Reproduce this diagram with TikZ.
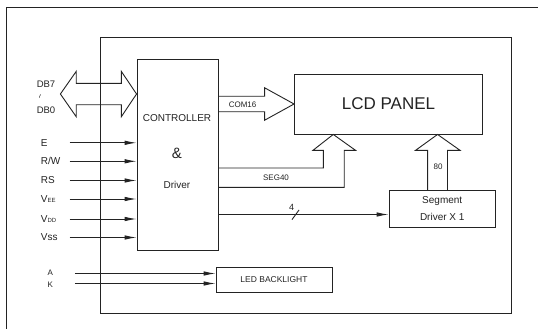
\documentclass[tikz,border=0pt]{standalone}
\usepackage{fontspec}
\setmainfont{Liberation Sans}
\usetikzlibrary{arrows.meta,calc}
\definecolor{ink}{RGB}{35,35,35}
\begin{document}
\begin{tikzpicture}[x=1pt,y=-1pt, line width=0.9pt, draw=ink, text=ink,
  box/.style={draw, inner sep=0pt},
  lbl/.style={inner sep=0pt, font=\fontsize{10}{12}\selectfont},
  sml/.style={inner sep=0pt, font=\fontsize{8}{10}\selectfont},
  sig/.style={-{Latex[length=12pt,width=4.5pt]}},
  bus/.style={line join=miter}]
\useasboundingbox (0,0) rectangle (538,329);
\fill[white] (0,0) rectangle (538,329);
% outer frame
\draw (6,340) -- (6,7) -- (545,7);
% blocks
\node[box, minimum width=411pt, minimum height=276pt] (frame) at (305.5,175) {};
\node[box, minimum width=81pt, minimum height=191.5pt] (ctrl) at (177.5,154.75) {};
\node[box, minimum width=188pt, minimum height=60pt, font=\fontsize{17}{20}\selectfont] (lcd) at (388.5,104) {LCD PANEL};
\node[box, minimum width=106.5pt, minimum height=36.5pt, align=center, font=\fontsize{10}{17}\selectfont] (seg) at (442.25,208.75) {Segment\\Driver X 1};
\node[box, minimum width=116pt, minimum height=25pt, font=\fontsize{8.5}{10}\selectfont] (led) at (274,279.5) {LED BACKLIGHT\hspace{6pt}};
% controller texts
\node[lbl] (t1) at (177,118.4) {CONTROLLER};
\node[inner sep=0pt, font=\fontsize{15}{17}\selectfont] (t2) at (177,153.4) {\&};
\node[lbl] (t3) at (177,185.3) {Driver};
% data bus
\coordinate (dbL) at (60.4,94);
\coordinate (dbR) at (ctrl.west |- dbL);
\draw[bus] (dbL) -- ($(dbL)+(15.8,-22.6)$) -- ($(dbL)+(15.8,-10.6)$) -- ($(dbR)+(-15.2,-10.6)$) -- ($(dbR)+(-15.2,-22.6)$) -- (dbR)
  -- ($(dbR)+(-15.2,22.7)$) -- ($(dbR)+(-15.2,10.7)$) -- ($(dbL)+(15.8,10.7)$) -- ($(dbL)+(15.8,22.7)$) -- cycle;
\node[inner sep=0pt, font=\fontsize{9.5}{11}\selectfont] (db7) at (46,84) {DB7};
\node[inner sep=0pt, font=\fontsize{8}{9}\selectfont, rotate=75] (dbt) at (41,96.5) {\textasciitilde};
\node[inner sep=0pt, font=\fontsize{9.5}{11}\selectfont] (db0) at (46,110) {DB0};
% control inputs
\coordinate (iE) at (69.7,142.8);
\coordinate (iRW) at (69.7,161.3);
\coordinate (iRS) at (69.7,180.5);
\coordinate (iVEE) at (69.7,199);
\coordinate (iVDD) at (69.7,219);
\coordinate (iVSS) at (69.7,237.5);
\draw[sig] (iE) -- (iE -| ctrl.west);
\draw[sig] (iRW) -- (iRW -| ctrl.west);
\draw[sig] (iRS) -- (iRS -| ctrl.west);
\draw[sig] (iVEE) -- (iVEE -| ctrl.west);
\draw[sig] (iVDD) -- (iVDD -| ctrl.west);
\draw[sig] (iVSS) -- (iVSS -| ctrl.west);
\node[lbl, anchor=west] (lE) at (40.5,142.8) {E};
\node[lbl, anchor=west] (lRW) at (40.5,161.3) {R/W};
\node[lbl, anchor=west] (lRS) at (40.5,180.5) {RS};
\node[lbl, anchor=base west] (lVEE) at (40.5,202.5) {V{\fontsize{6}{7}\selectfont EE}};
\node[lbl, anchor=base west] (lVDD) at (40.5,222.5) {V{\fontsize{6}{7}\selectfont DD}};
\node[lbl, anchor=west] (lVSS) at (40.5,237.5) {Vss};
% COM16 bus
\coordinate (cA) at (ctrl.east |- 0,96.25);
\coordinate (cB) at (ctrl.east |- 0,111.75);
\draw[bus] (cA) -- ($(lcd.west)+(-29.5,-7.75)$) -- ($(lcd.west)+(-29.5,-16.25)$) -- (lcd.west)
  -- ($(lcd.west)+(-29.5,16.25)$) -- ($(lcd.west)+(-29.5,7.75)$) -- (cB);
\node[sml] (lcom) at (242.6,104.7) {COM16};
% SEG40 bus
\coordinate (sTip) at ($(lcd.south west)+(39.2,0)$);
\coordinate (sA) at (ctrl.east |- 0,168);
\coordinate (sB) at (ctrl.east |- 0,187.4);
\draw[bus] (sA) -- (323.3,168) -- (323.3,150.3) -- (313,150.3) -- (sTip) -- (355.5,150.3) -- (344.2,150.3) -- (344.2,187.4) -- (sB);
\node[sml] (lseg) at (276,178) {SEG40};
% 80 bus
\coordinate (eTip) at ($(lcd.south west)+(143.5,0)$);
\draw[bus] (427.6,0 |- seg.north) -- (427.6,150.3) -- (415.6,150.3) -- (eTip) -- (460,150.3) -- (447.5,150.3) -- (447.5,0 |- seg.north);
\node[sml] (l80) at (438,167) {80};
% 4-bit line
\coordinate (fA) at (ctrl.east |- 0,214.5);
\draw[sig] (fA) -- (fA -| seg.west);
\draw (292,219.6) -- (299,210);
\node[inner sep=0pt, font=\fontsize{9}{10}\selectfont] (l4) at (291.7,207.5) {4};
% backlight
\coordinate (bA) at (74.8,273.5);
\coordinate (bK) at (74.8,283.5);
\draw[sig] (bA) -- (bA -| led.west);
\draw[sig] (bK) -- (bK -| led.west);
\node[sml] (lA) at (50.4,272.8) {A};
\node[sml] (lK) at (50.4,284.8) {K};
\end{tikzpicture}
\end{document}
